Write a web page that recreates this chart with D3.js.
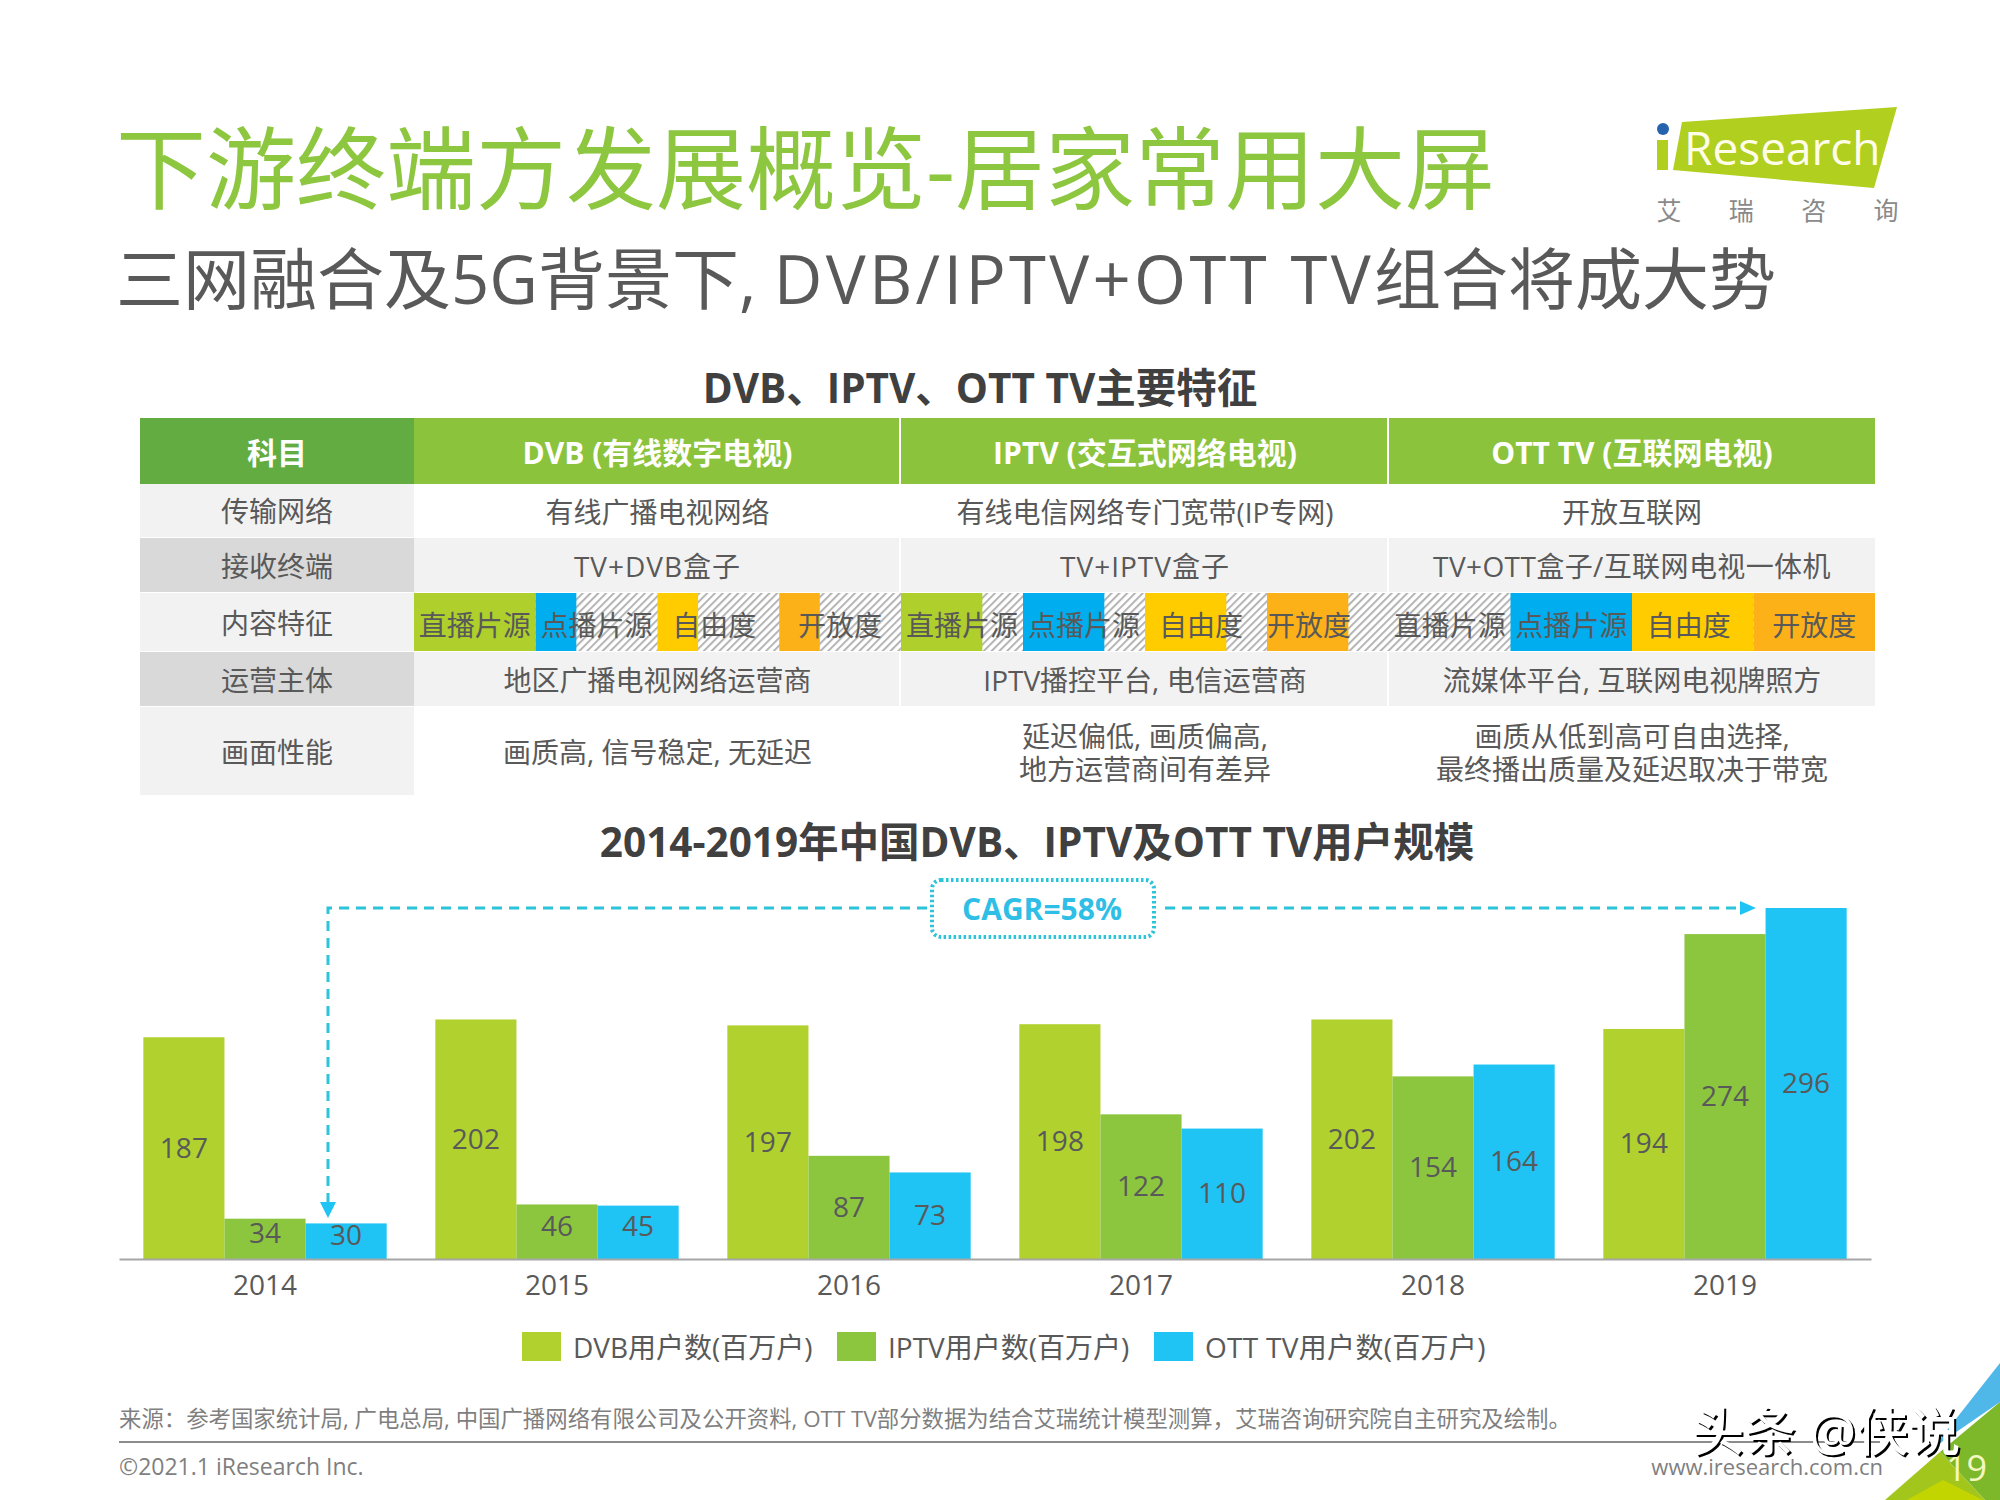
<!DOCTYPE html>
<html><head><meta charset="utf-8">
<script src="https://cdn.jsdelivr.net/npm/d3@7/dist/d3.min.js"></script>
<style>
html,body{margin:0;padding:0;background:#fff}
svg{display:block}
text{font-family:"Open Sans","Noto Sans CJK SC",sans-serif}
</style></head><body>
<script>
// ---- chart data ----
const years = ["2014","2015","2016","2017","2018","2019"];
const seriesNames = ["DVB用户数(百万户)","IPTV用户数(百万户)","OTT TV用户数(百万户)"];
const dvbValues = [187,202,197,198,202,194];
const iptvValues = [34,46,87,122,154,274];
const ottValues = [30,45,73,110,164,296];
const seriesColors = ["#b0d12e","#8cc63f","#1fc4f4"];

// ---- table data ----
const tableHeaders = ["科目","DVB (有线数字电视)","IPTV (交互式网络电视)","OTT TV (互联网电视)"];
const rowLabels = ["传输网络","接收终端","内容特征","运营主体","画面性能"];
const networkRow = ["有线广播电视网络","有线电信网络专门宽带(IP专网)","开放互联网"];
const terminalRow = ["TV+DVB盒子","TV+IPTV盒子","TV+OTT盒子/互联网电视一体机"];
const operatorRow = ["地区广播电视网络运营商","IPTV播控平台, 电信运营商","流媒体平台, 互联网电视牌照方"];
const qualityRow = [["画质高, 信号稳定, 无延迟"],["延迟偏低, 画质偏高,","地方运营商间有差异"],["画质从低到高可自由选择,","最终播出质量及延迟取决于带宽"]];
const features = ["直播片源","点播片源","自由度","开放度"];
const featureColors = ["#aecf2c","#00aeef","#ffcc00","#fdb119"];
const dvbScores = [3,1,1,1];
const iptvScores = [2,2,2,2];
const ottScores = [0,3,3,3];
const scoreMax = 3;

const W=2000,H=1500;
const svg=d3.select("body").append("svg").attr("width",W).attr("height",H).attr("viewBox",`0 0 ${W} ${H}`);
const gray="#595959";
function txt(p,s,x,y,size,fill,opt={}){
  return p.append("text").attr("x",x).attr("y",y).attr("font-size",size).attr("fill",fill)
    .attr("text-anchor",opt.anchor||"start").attr("dominant-baseline",opt.base||"central")
    .attr("font-weight",opt.weight||400).text(s);
}
const defs=svg.append("defs");
const pat=defs.append("pattern").attr("id","hatch").attr("patternUnits","userSpaceOnUse")
  .attr("width",5.5).attr("height",5.5).attr("patternTransform","rotate(45)");
pat.append("rect").attr("width",5.5).attr("height",5.5).attr("fill","#fff");
pat.append("rect").attr("width",2).attr("height",5.5).attr("fill","#b4b4b4");

// ---- titles ----
txt(svg,"下游终端方发展概览-居家常用大屏",116,167,90,"#8dc63f");
const sub=txt(svg,"",116,278,67,gray);
sub.append("tspan").text("三网融合及5G背景下, ");
sub.append("tspan").attr("letter-spacing",3.3).text("DVB/IPTV+OTT TV");
sub.append("tspan").text("组合将成大势");

// ---- logo ----
const logo=svg.append("g");
logo.append("polygon").attr("points","1682,122 1897,107 1874,188 1673,170").attr("fill","#b0cf1e");
logo.append("rect").attr("x",1657).attr("y",140).attr("width",11).attr("height",30).attr("fill","#b0cf1e");
logo.append("circle").attr("cx",1663).attr("cy",129).attr("r",6).attr("fill","#2563ae");
txt(logo,"Research",1684,165,46,"#fffde8",{base:"auto"});
["艾","瑞","咨","询"].forEach((c,i)=>txt(logo,c,d3.scaleLinear().domain([0,3]).range([1669,1886])(i),210,25,"#8a8a8a",{anchor:"middle"}));

// ---- table ----
txt(svg,"DVB、IPTV、OTT TV主要特征",980,387,40.5,"#404040",{anchor:"middle",weight:700});
const colEdges=[140,414,901,1389,1875];
const rowEdges=[418,484,538,593,652,707,796];
const t=svg.append("g");
tableHeaders.forEach((h,i)=>{
  t.append("rect").attr("x",colEdges[i]).attr("y",rowEdges[0]).attr("width",colEdges[i+1]-colEdges[i]-(i&&i<3?2:0)).attr("height",rowEdges[1]-rowEdges[0])
    .attr("fill",i?"#8cc33d":"#62ac42");
  txt(t,h,(colEdges[i]+colEdges[i+1])/2,(rowEdges[0]+rowEdges[1])/2+1,30,"#fff",{anchor:"middle",weight:700});
});
const bodyFill=["#fff","#f2f2f2",null,"#f2f2f2","#fff"];
const labelFill=["#f2f2f2","#d9d9d9","#f2f2f2","#d9d9d9","#f2f2f2"];
rowLabels.forEach((r,i)=>{
  const y0=rowEdges[i+1],y1=rowEdges[i+2];
  t.append("rect").attr("x",colEdges[0]).attr("y",y0).attr("width",colEdges[1]-colEdges[0]).attr("height",y1-y0-1).attr("fill",labelFill[i]);
  txt(t,r,(colEdges[0]+colEdges[1])/2,(y0+y1)/2,28,gray,{anchor:"middle"});
});
const rows=[networkRow,terminalRow,null,operatorRow,qualityRow];
const terminalSpacing=[1,1,0.4];
rows.forEach((row,i)=>{
  if(!row) return;
  const y0=rowEdges[i+1],y1=rowEdges[i+2];
  row.forEach((cell,c)=>{
    t.append("rect").attr("x",colEdges[c+1]).attr("y",y0).attr("width",colEdges[c+2]-colEdges[c+1]-(c<2?2:0)).attr("height",y1-y0-1).attr("fill",bodyFill[i]);
    const cx=(colEdges[c+1]+colEdges[c+2])/2;
    const lines=Array.isArray(cell)?cell:[cell];
    const ly=d3.scalePoint().domain(d3.range(lines.length)).range(lines.length>1?[(y0+y1)/2-16,(y0+y1)/2+17]:[(y0+y1)/2,(y0+y1)/2]);
    lines.forEach((l,k)=>{
      const n=txt(t,l,cx,ly(k)+0.5,28,gray,{anchor:"middle"});
      if(row===terminalRow) n.attr("letter-spacing",terminalSpacing[c]);
    });
  });
});
// score row
const fy0=rowEdges[3],fy1=rowEdges[4];
const labelNudge=[[0,0,-4,0],[0,0,-5,-19],[0,0,-4,0]];
[dvbScores,iptvScores,ottScores].forEach((scores,c)=>{
  const band=d3.scaleBand().domain(features).range([colEdges[c+1],colEdges[c+2]]);
  const g=t.append("g");
  g.append("rect").attr("x",colEdges[c+1]).attr("y",fy0).attr("width",colEdges[c+2]-colEdges[c+1]).attr("height",fy1-fy0-1).attr("fill","url(#hatch)");
  features.forEach((f,i)=>{
    const w=d3.scaleLinear().domain([0,scoreMax]).range([0,band.bandwidth()]);
    g.append("rect").attr("x",band(f)).attr("y",fy0).attr("width",w(scores[i])).attr("height",fy1-fy0-1).attr("fill",featureColors[i]);
    txt(g,f,band(f)+band.bandwidth()/2+labelNudge[c][i],(fy0+fy1)/2+2,28,gray,{anchor:"middle"});
  });
});

// ---- bar chart ----
txt(svg,"2014-2019年中国DVB、IPTV及OTT TV用户规模",1037,841,40.5,"#404040",{anchor:"middle",weight:700});
const x0=d3.scaleBand().domain(years).range([119,1871]).paddingInner(1/6).paddingOuter(1/12);
const x1=d3.scaleBand().domain(d3.range(3)).range([0,x0.bandwidth()]);
const y=d3.scaleLinear().domain([0,296]).range([1259,908]);
const seriesValues=[dvbValues,iptvValues,ottValues];
const chart=svg.append("g");
seriesValues.forEach((vals,s)=>{
  chart.selectAll(null).data(vals).join("rect")
    .attr("x",(d,i)=>x0(years[i])+x1(s)).attr("y",d=>y(d))
    .attr("width",x1.bandwidth()).attr("height",d=>y(0)-y(d)).attr("fill",seriesColors[s]);
  chart.selectAll(null).data(vals).join("text")
    .attr("x",(d,i)=>x0(years[i])+x1(s)+x1.bandwidth()/2)
    .attr("y",d=>(y(d)+y(0))/2-(d<50?7:1.5))
    .attr("text-anchor","middle").attr("dominant-baseline","central")
    .attr("font-size",28).attr("fill",gray).text(d=>d);
});
const axis=svg.append("g").attr("transform",`translate(0,${y(0)})`)
  .call(d3.axisBottom(x0).tickSize(0).tickPadding(16));
axis.select(".domain").attr("stroke","#a6a6a6").attr("stroke-width",2);
axis.selectAll("text").attr("font-size",28).attr("fill",gray)
  .attr("font-family",'"Open Sans","Noto Sans CJK SC",sans-serif');

// ---- CAGR annotation ----
const ann=svg.append("g");
const cagrColor="#2cc4d8";
const topY=y(296);
const dash={fill:"none",stroke:cagrColor,"stroke-width":3,"stroke-dasharray":"10 7"};
function styled(sel,o){Object.entries(o).forEach(([k,v])=>sel.attr(k,v));return sel;}
styled(ann.append("path").attr("d",`M927,${topY}H328V1203`),dash);
styled(ann.append("path").attr("d",`M1165,${topY}H1742`),dash);
ann.append("path").attr("d",`M320,1202H336L328,1218Z`).attr("fill","#1fc4f4");
ann.append("path").attr("d",`M1740,${topY-7}L1756,${topY}L1740,${topY+7}Z`).attr("fill","#1fc4f4");
ann.append("rect").attr("x",932).attr("y",880).attr("width",222).attr("height",57).attr("rx",9)
  .attr("fill","#fff").attr("stroke",cagrColor).attr("stroke-width",4).attr("stroke-dasharray","2.5 2.5");
txt(ann,"CAGR=58%",1042,908,30,"#2fbfe6",{anchor:"middle",weight:700});

// ---- legend ----
const legX=[522,837,1154];
const legSpacing=[0,0,0.3];
seriesNames.forEach((n,i)=>{
  svg.append("rect").attr("x",legX[i]).attr("y",1332).attr("width",39).attr("height",29).attr("fill",seriesColors[i]);
  txt(svg,n,legX[i]+51,1347,28,gray).attr("letter-spacing",legSpacing[i]);
});

// ---- footer ----
const corner=svg.append("g");
[["2000,1363 1933,1448 2000,1402","#4fb8e8"],["1940,1452 2000,1402 2000,1500 1985,1500","#7cb82a"],
 ["1885,1500 1940,1452 1985,1500","#a2c61c"],["1907,1500 1943,1480 1983,1500","#c3d500"]]
 .forEach(([p,f])=>corner.append("polygon").attr("points",p).attr("fill",f));
txt(svg,"来源：参考国家统计局, 广电总局, 中国广播网络有限公司及公开资料, OTT TV部分数据为结合艾瑞统计模型测算，艾瑞咨询研究院自主研究及绘制。",119,1418,22.4,"#7f7f7f");
svg.append("line").attr("x1",119).attr("x2",1880).attr("y1",1442).attr("y2",1442).attr("stroke","#8c8c8c").attr("stroke-width",2);
txt(svg,"©2021.1 iResearch Inc.",119,1466,23,"#7f7f7f");
txt(svg,"www.iresearch.com.cn",1883,1466,22,"#7f7f7f",{anchor:"end"});
txt(svg,"19",1946,1467,36,"#f4f7c0");
txt(svg,"头条 @侠说",1692,1430,52,"#fff",{weight:500}).style("filter","drop-shadow(2.5px 2.5px 0 #000)");
</script>
</body></html>
